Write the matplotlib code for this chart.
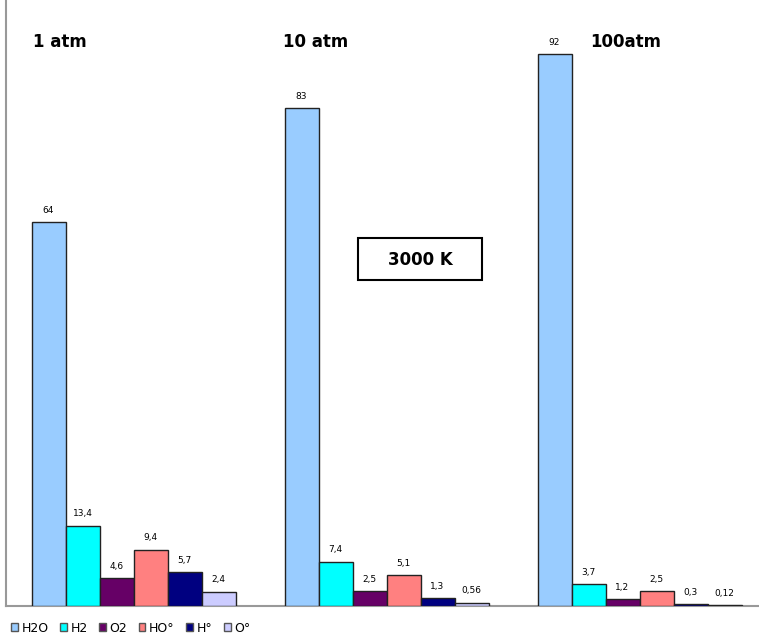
import matplotlib.pyplot as plt
import matplotlib.patches as mpatches
import numpy as np

# data
groups = ["1 atm", "10 atm", "100atm"]
species = ["H2O", "H2", "O2", "HO°", "H°", "O°"]
values_1atm = [64, 13.4, 4.6, 9.4, 5.7, 2.4]
values_10atm = [83, 7.4, 2.5, 5.1, 1.3, 0.56]
values_100atm = [92, 3.7, 1.2, 2.5, 0.3, 0.12]
labels_1atm = ["64", "13,4", "4,6", "9,4", "5,7", "2,4"]
labels_10atm = ["83", "7,4", "2,5", "5,1", "1,3", "0,56"]
labels_100atm = ["92", "3,7", "1,2", "2,5", "0,3", "0,12"]
colors = ["#99CCFF", "#00FFFF", "#660066", "#FF8080", "#000080", "#CCCCFF"]

values = np.array([values_1atm, values_10atm, values_100atm])
labels = [labels_1atm, labels_10atm, labels_100atm]

fig = plt.figure(figsize=(7.59, 6.36), dpi=100)
ax = fig.add_axes([6 / 759, 30 / 636, 759 / 759, 606 / 636])

width = 0.1344
x = np.arange(len(groups))
for j, sp in enumerate(species):
    pos = x - 3 * width + (j + 0.5) * width + 0.004
    ax.bar(pos, values[:, j], width, color=colors[j], edgecolor="#222222",
           linewidth=1.0, label=sp, zorder=3)
    for i in range(len(groups)):
        ax.text(pos[i], values[i, j] + 1.2, labels[i][j], ha="center",
                va="bottom", fontsize=6.5, family="DejaVu Sans")

ax.set_xlim(-0.5, 2.5)
ax.set_ylim(0, 101)
ax.set_xticks([])
ax.set_yticks([])
for s in ["top", "right"]:
    ax.spines[s].set_visible(False)
ax.spines["left"].set_color("#999999")
ax.spines["bottom"].set_color("#999999")
ax.spines["left"].set_linewidth(1.5)
ax.spines["bottom"].set_linewidth(1.5)

# group titles
title_x = [33, 283, 590]
for t, px in zip(groups, title_x):
    fig.text(px / 759, 1 - 42 / 636, t, fontsize=12, fontweight="bold",
             ha="left", va="center", family="DejaVu Sans")

# 3000 K box
fig.patches.append(mpatches.Rectangle((358 / 759, 1 - 280 / 636), 124 / 759, 42 / 636,
                                      transform=fig.transFigure, facecolor="white",
                                      edgecolor="black", linewidth=1.5))
fig.text(420 / 759, 1 - 260 / 636, "3000 K", fontsize=12, fontweight="bold",
         ha="center", va="center", family="DejaVu Sans")

leg = fig.legend(loc="center left", bbox_to_anchor=(2 / 759, 1 - 628 / 636),
                 ncol=6, frameon=False, fontsize=9, handlelength=0.55,
                 handleheight=0.55, handletextpad=0.3, columnspacing=0.9,
                 borderpad=0.2)
for h in leg.legend_handles:
    h.set_edgecolor("#555555")

plt.savefig("out.png", dpi=100)
